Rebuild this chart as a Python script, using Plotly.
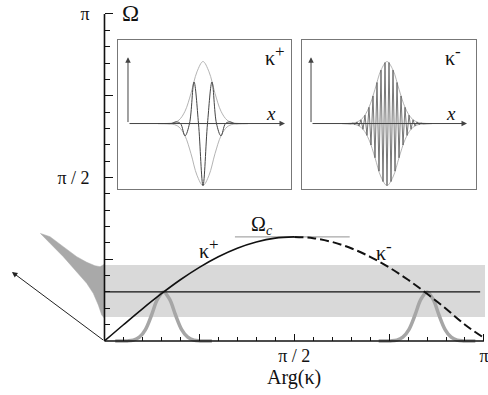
import math
import plotly.graph_objects as go

PI = math.pi

# ---------------- data ----------------
# dispersion curve Omega(k) at k = 0, pi/20, ..., pi
k_disp = [i * PI / 20 for i in range(21)]
omega_disp = [0.0, 0.156, 0.309, 0.454, 0.588, 0.707, 0.809, 0.891, 0.951, 0.988, 1.0,
              0.988, 0.951, 0.891, 0.809, 0.707, 0.588, 0.454, 0.309, 0.156, 0.03]

omega_0 = 0.471                 # carrier frequency (horizontal line)
band_omega = [0.231, 0.730]     # shaded frequency band
band_k = [0.0, 3.15]
omega_c = 1.0                   # cut-off level
omega_c_k = [1.08, 2.03]

# spectral bumps on the k axis
bump_centers = [0.489, 2.67]
bump_offsets = [-0.40, -0.30, -0.25, -0.20, -0.15, -0.10, -0.05, 0.0,
                0.05, 0.10, 0.15, 0.20, 0.25, 0.30, 0.40]
bump_heights = [0.0, 0.001, 0.008, 0.036, 0.110, 0.247, 0.401, 0.471,
                0.401, 0.247, 0.110, 0.036, 0.008, 0.001, 0.0]

# grey wedge left of the Omega axis (complex-k image of the band)
wedge_k = [-0.530, -0.451, -0.341, -0.230, -0.147, -0.079, -0.037, -0.015, 0.0,
           0.0, -0.023, -0.051, -0.093, -0.147, -0.230, -0.341, -0.451, -0.512, -0.530]
wedge_omega = [1.033, 1.002, 0.906, 0.810, 0.756, 0.723, 0.714, 0.730, 0.737,
               0.218, 0.250, 0.346, 0.458, 0.554, 0.666, 0.810, 0.939, 1.012, 1.033]

arrow_tip = (-0.766, 0.663)

# ticks
label_ticks = [PI / 2, PI]
label_text = ["π / 2", "π"]
long_ticks = [PI / 4, 3 * PI / 4]
minor_ticks = [i * PI / 20 for i in range(1, 20)]

# inset wave packets
env_offsets = [-45, -36, -30, -24, -18, -12, -6, 0, 6, 12, 18, 24, 30, 36, 45]
env_plus = [0.0, 0.0015, 0.011, 0.056, 0.198, 0.487, 0.835, 1.0,
            0.835, 0.487, 0.198, 0.056, 0.011, 0.0015, 0.0]
env_minus = [0.0, 0.005, 0.024, 0.093, 0.262, 0.552, 0.862, 1.0,
             0.862, 0.552, 0.262, 0.093, 0.024, 0.005, 0.0]
center_plus = 75
center_minus = 76
inset_x_arrow = [157, 156]
inset_y_arrow = 1.07

carrier_plus_offsets = [-45, -36, -31.5, -27, -22.5, -18, -13.5, -9, -4.5, 0,
                        4.5, 9, 13.5, 18, 22.5, 27, 31.5, 36, 45]
carrier_plus = [0.0, -0.0015, 0.0, 0.026, 0.0, -0.198, 0.0, 0.67, 0.0, -1.0,
                0.0, 0.67, 0.0, -0.198, 0.0, 0.026, 0.0, -0.0015, 0.0]

carrier_minus_offsets = [-45] + [-36 + 2 * i for i in range(37)] + [45]
carrier_minus = [0.0,
                 -0.005, 0.008, -0.015, 0.024, -0.039, 0.061, -0.093, 0.135, -0.192,
                 0.262, -0.347, 0.445, -0.552, 0.662, -0.768, 0.862, -0.936, 0.984,
                 -1.0,
                 0.984, -0.936, 0.862, -0.768, 0.662, -0.552, 0.445, -0.347, 0.262,
                 -0.192, 0.135, -0.093, 0.061, -0.039, 0.024, -0.015, 0.008, -0.005,
                 0.0]

# ---------------- figure ----------------
SERIF = "Liberation Serif"
fig = go.Figure()

# band
fig.add_trace(go.Scatter(x=[band_k[0], band_k[1], band_k[1], band_k[0], band_k[0]],
                         y=[band_omega[0], band_omega[0], band_omega[1], band_omega[1], band_omega[0]],
                         fill="toself", fillcolor="#d9d9d9", line=dict(width=0),
                         mode="lines", hoverinfo="skip"))
# wedge
fig.add_trace(go.Scatter(x=wedge_k, y=wedge_omega, fill="toself", fillcolor="#a9a9a9",
                         line=dict(width=0.5, color="#a9a9a9"),
                         mode="lines", hoverinfo="skip"))
# bumps
for c in bump_centers:
    fig.add_trace(go.Scatter(x=[c + o for o in bump_offsets], y=bump_heights, mode="lines",
                             line=dict(color="#a6a6a6", width=3.5, shape="spline"),
                             hoverinfo="skip"))
# carrier line
fig.add_trace(go.Scatter(x=[0, 3.11], y=[omega_0, omega_0], mode="lines",
                         line=dict(color="#111", width=1.2), hoverinfo="skip"))
# omega_c line
fig.add_trace(go.Scatter(x=omega_c_k, y=[omega_c, omega_c], mode="lines",
                         line=dict(color="#777", width=0.8), hoverinfo="skip"))
# dispersion curve
fig.add_trace(go.Scatter(x=k_disp[:11], y=omega_disp[:11], mode="lines",
                         line=dict(color="#111", width=1.6, shape="spline"), hoverinfo="skip"))
fig.add_trace(go.Scatter(x=k_disp[10:], y=omega_disp[10:], mode="lines",
                         line=dict(color="#111", width=2, shape="spline", dash="9px,4px"),
                         hoverinfo="skip"))

# insets
for ax, env, cen, coff, cval, cw, ccol in [
        ("2", env_plus, center_plus, carrier_plus_offsets, carrier_plus, 1.0, "#444"),
        ("3", env_minus, center_minus, carrier_minus_offsets, carrier_minus, 0.8, "#555")]:
    xs = [cen + o for o in env_offsets]
    fig.add_trace(go.Scatter(x=xs, y=env, mode="lines", xaxis="x" + ax, yaxis="y" + ax,
                             line=dict(color="#aaa", width=0.9, shape="spline"), hoverinfo="skip"))
    fig.add_trace(go.Scatter(x=xs, y=[-v for v in env], mode="lines", xaxis="x" + ax, yaxis="y" + ax,
                             line=dict(color="#aaa", width=0.9, shape="spline"), hoverinfo="skip"))
    fig.add_trace(go.Scatter(x=[cen + o for o in coff], y=cval, mode="lines",
                             xaxis="x" + ax, yaxis="y" + ax,
                             line=dict(color=ccol, width=cw,
                                       shape="spline" if ax == "2" else "linear"),
                             hoverinfo="skip"))

# axis lines (only from 0 to pi)
fig.add_shape(type="line", x0=0, y0=0, x1=0, y1=PI, xref="x", yref="y",
              line=dict(color="#111", width=1.6))
fig.add_shape(type="line", x0=0, y0=0, x1=PI, y1=0, xref="x", yref="y",
              line=dict(color="#111", width=1.6))

XR = [-0.865, 3.175]
YR = [-0.519, 3.276]
XPOS = 0.1367
YPOS = 0.2141
tickfont = dict(family=SERIF, size=18, color="#111")
common = dict(showgrid=False, zeroline=False, showline=False, tickmode="array",
              ticks="inside", tickwidth=1, tickcolor="#111")
inset_axis = dict(showgrid=False, zeroline=False, showline=True, mirror=True,
                  linecolor="#777", linewidth=1, showticklabels=False, ticks="")
fig.update_layout(
    width=488, height=395, margin=dict(l=0, r=0, t=0, b=0),
    paper_bgcolor="white", plot_bgcolor="white", showlegend=False,
    font=dict(family=SERIF),
    xaxis=dict(range=XR, anchor="free", position=XPOS, tickvals=label_ticks,
               ticktext=label_text, ticklen=7,
               minor=dict(tickmode="array", tickvals=minor_ticks, ticks="inside", ticklen=4,
                          tickwidth=1, tickcolor="#111"),
               tickfont=tickfont, ticklabeloverflow="allow", ticklabelstandoff=2, **common),
    xaxis4=dict(range=XR, anchor="free", position=XPOS, overlaying="x", tickvals=long_ticks,
                ticklen=7, showticklabels=False, **common),
    yaxis=dict(range=YR, anchor="free", position=YPOS, tickvals=label_ticks,
               ticktext=label_text, ticklen=8,
               minor=dict(tickmode="array", tickvals=minor_ticks, ticks="inside", ticklen=5,
                          tickwidth=1, tickcolor="#111"),
               tickfont=tickfont, ticklabeloverflow="allow", ticklabelstandoff=15, **common),
    yaxis4=dict(range=YR, anchor="free", position=YPOS, overlaying="y", tickvals=long_ticks,
                ticklen=8, showticklabels=False, **common),
    xaxis2=dict(domain=[0.2418, 0.5963], range=[-10, 163], anchor="y2", **inset_axis),
    yaxis2=dict(domain=[0.5215, 0.8987], range=[-1.056, 1.347], anchor="x2", **inset_axis),
    xaxis3=dict(domain=[0.6189, 0.9754], range=[-9, 165], anchor="y3", **inset_axis),
    yaxis3=dict(domain=[0.5215, 0.8987], range=[-1.056, 1.347], anchor="x3", **inset_axis),
)
# invisible trace to activate the overlay tick axes
fig.add_trace(go.Scatter(x=[0], y=[0], xaxis="x4", yaxis="y4", mode="markers",
                         marker=dict(size=0, opacity=0), hoverinfo="skip"))

ann = []
# arrow to the left from the origin
ann.append(dict(x=arrow_tip[0], y=arrow_tip[1], ax=0, ay=0, xref="x", yref="y",
                axref="x", ayref="y", showarrow=True, arrowhead=2, arrowsize=1.1,
                arrowwidth=1, arrowcolor="#222", text=""))
# inset axis arrows
for ax, xend in [("2", inset_x_arrow[0]), ("3", inset_x_arrow[1])]:
    ann.append(dict(x=xend, y=0, ax=0, ay=0, xref="x" + ax, yref="y" + ax,
                    axref="x" + ax, ayref="y" + ax, showarrow=True, arrowhead=2,
                    arrowsize=1.1, arrowwidth=1, arrowcolor="#444", text=""))
    ann.append(dict(x=0, y=inset_y_arrow, ax=0, ay=0, xref="x" + ax, yref="y" + ax,
                    axref="x" + ax, ayref="y" + ax, showarrow=True, arrowhead=2,
                    arrowsize=1.1, arrowwidth=1, arrowcolor="#444", text=""))

def label(text, x, y, xref, yref, size=19):
    ann.append(dict(text=text, x=x, y=y, xref=xref, yref=yref, showarrow=False,
                    xanchor="center", yanchor="middle",
                    font=dict(family=SERIF, size=size, color="#111")))

PLUS = "κ<sup><span style='font-size:17px'>+</span></sup>"
MINUS = "κ<sup><span style='font-size:17px'>-</span></sup>"
label("Ω", 0.2664, 0.9646, "paper", "paper", 23)
label("Arg(κ)", PI / 2, -0.355, "x", "y", 20)
label("Ω<sub><i>c</i></sub>", 1.304, 1.105, "x", "y", 20)
label(PLUS, 0.865, 0.893, "x", "y", 20)
label(MINUS, 2.314, 0.874, "x", "y", 20)
label(PLUS, 147, 1.09, "x2", "y2", 20)
label(MINUS, 142, 1.09, "x3", "y3", 20)
label("<i>x</i>", 143, 0.16, "x2", "y2", 19)
label("<i>x</i>", 140, 0.16, "x3", "y3", 19)
fig.update_layout(annotations=ann)

fig.write_html("out.html", config=dict(displayModeBar=False),
               post_script="document.body.style.margin='0';")
